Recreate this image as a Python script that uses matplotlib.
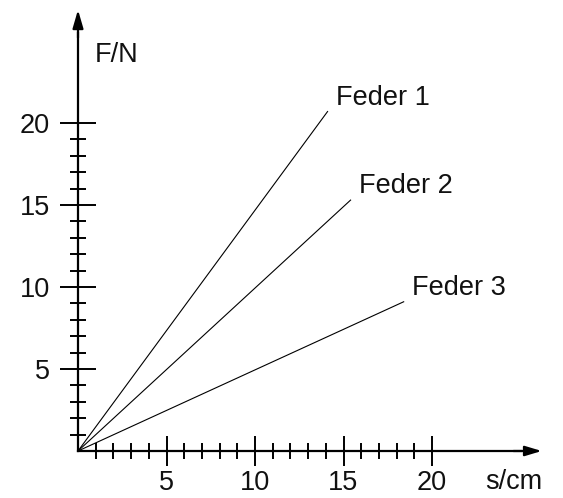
import numpy as np
import matplotlib.pyplot as plt

# spring data: end points of each line (s in cm, F in N)
springs = ['Feder 1', 'Feder 2', 'Feder 3']
s_end = [14.1, 15.4, 18.4]
F_end = [20.7, 15.3, 9.1]

x_major = [5, 10, 15, 20]
y_major = [5, 10, 15, 20]
x_minor = np.arange(1, 20)
y_minor = np.arange(1, 20)

plt.rcParams['font.family'] = ['Liberation Sans', 'DejaVu Sans']
FS = 19.5

fig = plt.figure(figsize=(5.63, 4.98), dpi=100)
ax = fig.add_axes([0, 0, 1, 1])

# pixel mapping: origin at (78, 451), 17.7 px per cm, 16.4 px per N
ax.set_xlim(-78 / 17.7, (563 - 78) / 17.7)
ax.set_ylim(-(498 - 451) / 16.4, 451 / 16.4)

for name, s, F in zip(springs, s_end, F_end):
    ax.plot([0, s], [0, F], color='black', lw=0.8)
    ax.annotate(name, xy=(s, F), xytext=(6, 10), textcoords='offset points',
                ha='left', va='center', fontsize=FS, color='#111111')

# axes through origin
for side in ['top', 'right']:
    ax.spines[side].set_visible(False)
ax.spines['left'].set_position(('data', 0))
ax.spines['bottom'].set_position(('data', 0))
ax.spines['left'].set_linewidth(1.6)
ax.spines['bottom'].set_linewidth(1.6)
ax.spines['bottom'].set_bounds(0, 25)
ax.spines['left'].set_bounds(0, 25.5)

# arrow heads
ax.annotate('', xy=(26.2, 0), xytext=(24.6, 0),
            arrowprops=dict(arrowstyle='-|>,head_length=1.0,head_width=0.3',
                            color='black', lw=1.6, shrinkA=0, shrinkB=0))
ax.annotate('', xy=(0, 26.9), xytext=(0, 25.2),
            arrowprops=dict(arrowstyle='-|>,head_length=1.1,head_width=0.32',
                            color='black', lw=1.6, shrinkA=0, shrinkB=0))

ax.set_xticks(x_major)
ax.set_yticks(y_major)
ax.set_xticks(x_minor, minor=True)
ax.set_yticks(y_minor, minor=True)
ax.tick_params(axis='x', which='major', direction='inout', length=21.5, width=1.4,
               labelsize=FS, pad=3, labelcolor='#111111')
ax.tick_params(axis='x', which='minor', direction='inout', length=11.5, width=1.4)
ax.tick_params(axis='y', which='major', direction='inout', length=26, width=1.4,
               labelsize=FS, pad=7, labelcolor='#111111')
ax.tick_params(axis='y', which='minor', direction='inout', length=12, width=1.4)

# axis labels
ax.annotate('F/N', xy=(95 / 563, 1 - 55 / 498), xycoords='axes fraction',
            ha='left', va='center', fontsize=FS, color='#111111')
ax.annotate('s/cm', xy=(485 / 563, 1 - 482 / 498), xycoords='axes fraction',
            ha='left', va='center', fontsize=FS, color='#111111')

fig.savefig('out.png', dpi=100)
